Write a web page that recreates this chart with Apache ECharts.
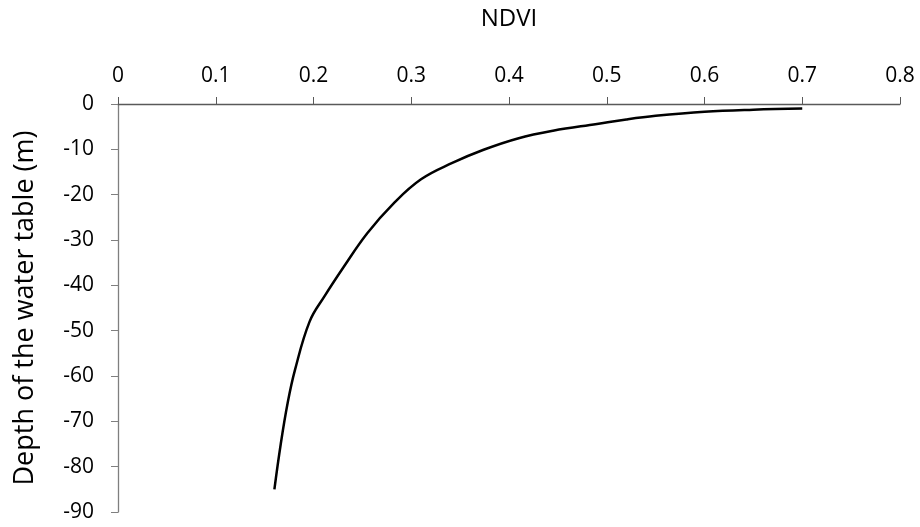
<!DOCTYPE html>
<html>
<head>
<meta charset="utf-8">
<script src="https://cdn.jsdelivr.net/npm/echarts@6/dist/echarts.min.js"></script>
<style>
  html, body { margin: 0; padding: 0; background: #fff; }
  #chart { width: 920px; height: 527px; }
</style>
</head>
<body>
<div id="chart"></div>
<script>
// NDVI against depth of the water table (m), sampled along the response curve
const ndvi  = [0.70, 0.65, 0.60, 0.55, 0.52, 0.49, 0.445, 0.409, 0.374, 0.342, 0.31, 0.282, 0.255, 0.231, 0.211, 0.196, 0.181, 0.1735, 0.1665, 0.160];
const depth = [-1.0, -1.25, -1.7, -2.6, -3.4, -4.4, -5.9, -7.6, -10.1, -13.0, -16.6, -21.9, -28.5, -35.9, -42.5, -48.0, -58.7, -66.0, -75.0, -85.0];

const xTicks = { min: 0, max: 0.8, interval: 0.1 };
const yTicks = { min: -90, max: 0, interval: 10 };

const font = '"Open Sans", Lato, sans-serif';

const chart = echarts.init(document.getElementById('chart'), null, { renderer: 'canvas' });
chart.setOption({
  animation: false,
  backgroundColor: '#ffffff',
  grid: { left: 118, right: 20, top: 104, bottom: 15, containLabel: false },
  xAxis: {
    type: 'value',
    position: 'top',
    min: xTicks.min, max: xTicks.max, interval: xTicks.interval,
    name: 'NDVI',
    nameLocation: 'middle',
    nameGap: 73,
    nameTextStyle: { fontFamily: font, fontSize: 24, color: '#000' },
    axisLine: { show: true, onZero: false, lineStyle: { color: '#595959', width: 1.3 } },
    axisTick: { show: true, inside: false, length: 7, lineStyle: { color: '#595959' } },
    axisLabel: { margin: 17, fontFamily: font, fontSize: 21, color: '#000' },
    splitLine: { show: false }
  },
  yAxis: {
    type: 'value',
    min: yTicks.min, max: yTicks.max, interval: yTicks.interval,
    name: 'Depth of the water table (m)',
    nameLocation: 'middle',
    nameGap: 79,
    nameTextStyle: { fontFamily: font, fontSize: 27, color: '#000' },
    axisLine: { show: true, onZero: false, lineStyle: { color: '#7f7f7f', width: 1.3 } },
    axisTick: { show: true, inside: false, length: 7, lineStyle: { color: '#7f7f7f' } },
    axisLabel: { margin: 24, fontFamily: font, fontSize: 21, color: '#000' },
    splitLine: { show: false }
  },
  series: [{
    type: 'line',
    data: ndvi.map((v, i) => [v, depth[i]]),
    smooth: 0.4,
    showSymbol: false,
    lineStyle: { color: '#000', width: 2.5 }
  }]
});
</script>
</body>
</html>
